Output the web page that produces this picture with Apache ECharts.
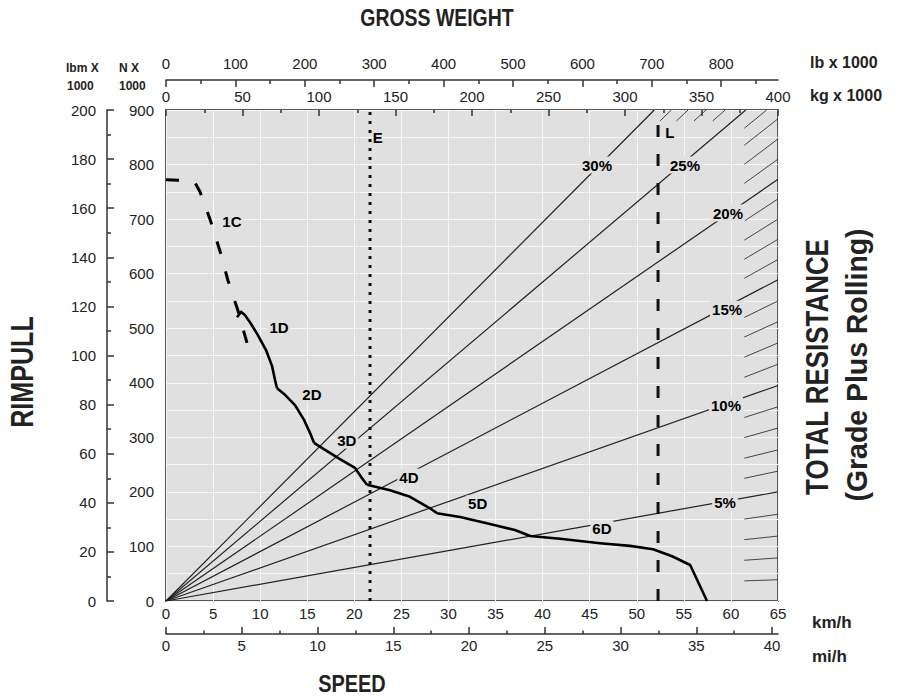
<!DOCTYPE html>
<html><head><meta charset="utf-8">
<script src="https://cdn.jsdelivr.net/npm/echarts@6/dist/echarts.min.js"></script>
<style>html,body{margin:0;padding:0;background:#fff}#c{width:904px;height:700px}</style>
</head><body><div id="c"></div>
<script>
// ---------- data (speed km/h, rimpull kN) ----------
const speed1C = [0, 2.97, 3.61, 4.67, 5.74, 6.59, 7.65, 8.6];
const rim1C   = [772, 770, 750, 700, 641, 587, 532, 473];
const speed1D = [7.54, 7.97, 8.39, 8.92, 9.77, 10.62, 11.26, 11.58, 11.79];
const rim1D   = [520, 530, 524, 511, 487, 460, 431, 405, 390];
const speed2D = [11.79, 12.64, 13.70, 14.66, 15.40, 15.72];
const rim2D   = [390, 378, 359, 332, 304, 290];
const speed3D = [15.72, 16.89, 18.48, 20.07, 20.82, 21.35];
const rim3D   = [290, 277, 260, 244, 225, 213];
const speed4D = [21.35, 23.79, 25.92, 28.04, 28.78];
const rim4D   = [213, 203, 191, 170, 161];
const speed5D = [28.78, 31.23, 34.41, 37.07, 38.66];
const rim5D   = [161, 154, 141, 130, 119];
const speed6D = [38.66, 41.85, 46.1, 49.28, 51.73, 53.75, 55.67, 57.46];
const rim6D   = [119, 114, 106, 101, 95, 82, 66, 0];

const gearNames = ['1C', '1D', '2D', '3D', '4D', '5D', '6D'];
const gearLabelSpeed = [7.0, 12.0, 15.5, 19.2, 25.8, 33.1, 46.3];
const gearLabelRim   = [696, 502, 379, 295, 227, 178, 132];

const lineESpeed = 21.67;   // E
const lineLSpeed = 52.26;   // L
const markNames = ['E', 'L'];
const markLabelSpeed = [22.5, 53.5];
const markLabelRim = [849, 858];

// total resistance (grade) lines: rimpull (kN) reached at 400 t gross weight
const gradePct = [1,2,3,4,5,6,7,8,9,10,11,12,13,14,15,16,17,18,19,20,21,22,23,24,25,26,27,28,29,30];
const gradeRimAt400 = [39,79,119,159,200,238,277,317,356,395,434,473,512,550,589,626,663,700,737,773,810,847,884,917,950,985,1020,1055,1090,1128];
const labelledGrades = [5, 10, 15, 20, 25, 30];
const gradeLabelKg = [365.4, 366, 366.7, 367.3, 339.2, 281.7];
const gradeLabelKN = [181, 359, 535, 711, 799, 799];

// tick labels
const kmhTicks = [0,5,10,15,20,25,30,35,40,45,50,55,60,65];
const mphTicks = [0,5,10,15,20,25,30,35,40];
const mphMinor = [2.5,7.5,12.5,17.5,22.5,27.5,32.5,37.5];
const lbTicks = [0,100,200,300,400,500,600,700,800];
const lbMinor = [50,150,250,350,450,550,650,750,850];

// ---------- chart ----------
const KG_MAX = 400, KN_MAX = 900;
const pairs = (xs, ys) => xs.map((x, i) => [x, ys[i]]);
const TXT = '#222';
const BASE = "'Liberation Sans', Arial, sans-serif";

const series = [];
// grade lines
gradePct.forEach((g, i) => {
  const k = gradeRimAt400[i] / KG_MAX;
  const kgB = Math.min(KG_MAX, KN_MAX / k);
  const end = [kgB, k * kgB];
  if (labelledGrades.includes(g)) {
    series.push({type: 'line', xAxisIndex: 3, yAxisIndex: 0, symbol: 'none', silent: true, z: 2,
      data: [[0, 0], end], lineStyle: {color: '#222', width: 1.2}});
  } else {
    const kgS = Math.min(378, 880 / k);
    series.push({type: 'line', xAxisIndex: 3, yAxisIndex: 0, symbol: 'none', silent: true, z: 2,
      data: [[kgS, k * kgS], end], lineStyle: {color: '#333', width: 0.9}});
  }
});
// E and L lines
series.push({type: 'line', xAxisIndex: 0, yAxisIndex: 0, symbol: 'none', silent: true, z: 3,
  data: [[lineESpeed, 0], [lineESpeed, 900]], lineStyle: {color: '#111', width: 3, type: [3, 6], cap: 'butt'}});
series.push({type: 'line', xAxisIndex: 0, yAxisIndex: 0, symbol: 'none', silent: true, z: 3,
  data: [[lineLSpeed, 0], [lineLSpeed, 900]], lineStyle: {color: '#111', width: 3, type: [12, 17], cap: 'butt'}});
// rimpull curves
series.push({type: 'line', xAxisIndex: 0, yAxisIndex: 0, symbol: 'none', silent: true, z: 4,
  data: pairs(speed1C, rim1C), lineStyle: {color: '#000', width: 3, type: [13, 18]}});
[[speed1D, rim1D], [speed2D, rim2D], [speed3D, rim3D], [speed4D, rim4D], [speed5D, rim5D], [speed6D, rim6D]].forEach(([s, r]) => {
  series.push({type: 'line', xAxisIndex: 0, yAxisIndex: 0, symbol: 'none', silent: true, z: 4,
    data: pairs(s, r), lineStyle: {color: '#000', width: 2.6, join: 'round'}});
});
const lblStyle = {show: true, position: 'inside', formatter: '{b}', color: '#000', opacity: 1, fontFamily: BASE,
  fontWeight: 'bold', fontSize: 15, backgroundColor: '#e0e0e0', padding: [1, 2]};
const dotStyle = {color: '#000', opacity: 1};
series.push({type: 'scatter', xAxisIndex: 0, yAxisIndex: 0, symbolSize: 0.1, itemStyle: dotStyle, silent: true, z: 6,
  data: gearNames.map((n, i) => ({name: n, value: [gearLabelSpeed[i], gearLabelRim[i]]})), label: lblStyle});
series.push({type: 'scatter', xAxisIndex: 0, yAxisIndex: 0, symbolSize: 0.1, itemStyle: dotStyle, silent: true, z: 6,
  data: markNames.map((n, i) => ({name: n, value: [markLabelSpeed[i], markLabelRim[i]]})),
  label: Object.assign({}, lblStyle, {backgroundColor: 'transparent'})});
series.push({type: 'scatter', xAxisIndex: 3, yAxisIndex: 0, symbolSize: 0.1, itemStyle: dotStyle, silent: true, z: 6,
  data: labelledGrades.map((g, i) => ({name: g + '%', value: [gradeLabelKg[i], gradeLabelKN[i]]})), label: lblStyle});

const tickLbl = {color: TXT, fontFamily: BASE, fontSize: 15};
const axLine = () => ({show: true, onZero: false, lineStyle: {color: '#333', width: 1.5}});
const noLine = () => ({show: false, onZero: false});
const white = {color: '#f6f6f6', width: 1};
const tk = (len, extra) => Object.assign({show: true, inside: true, length: len, lineStyle: {color: '#333', width: 1.5}}, extra || {});

const option = {
  animation: false,
  backgroundColor: '#fff',
  grid: {left: 166, top: 110, width: 612, height: 491, show: true, backgroundColor: '#e0e0e0',
    borderColor: '#555', borderWidth: 2, containLabel: false, z: 0},
  xAxis: [
    {type: 'value', position: 'bottom', min: 0, max: 65, interval: 5, axisLine: noLine(), axisTick: {show: false},
      axisLabel: Object.assign({margin: 5, customValues: kmhTicks}, tickLbl), splitLine: {show: true, lineStyle: white}, z: 1},
    {type: 'value', position: 'bottom', offset: 33, min: 0, max: 65 / 1.609344, axisLine: axLine(),
      axisTick: tk(7, {customValues: mphTicks}),
      axisLabel: Object.assign({margin: 4, customValues: mphTicks}, tickLbl), splitLine: {show: false}, z: 5},
    {type: 'value', position: 'bottom', offset: 33, min: 0, max: 65 / 1.609344, axisLine: noLine(),
      axisTick: tk(3.5, {customValues: mphMinor}),
      axisLabel: {show: false}, splitLine: {show: false}, z: 5},
    {type: 'value', position: 'top', min: 0, max: KG_MAX, interval: 50, axisLine: noLine(),
      axisTick: tk(6),
      minorTick: {show: true, splitNumber: 2, length: 3, lineStyle: {color: '#333', width: 1.5}},
      axisLabel: Object.assign({margin: 6}, tickLbl), splitLine: {show: false}, z: 5},
    {type: 'value', position: 'top', offset: 30, min: 0, max: KG_MAX * 2.20462, axisLine: axLine(),
      axisTick: tk(7, {customValues: lbTicks}),
      axisLabel: Object.assign({margin: 9, customValues: lbTicks}, tickLbl), splitLine: {show: false}, z: 5},
    {type: 'value', position: 'top', offset: 30, min: 0, max: KG_MAX * 2.20462, axisLine: noLine(),
      axisTick: tk(4, {customValues: lbMinor}),
      axisLabel: {show: false}, splitLine: {show: false}, z: 5}
  ],
  yAxis: [
    {type: 'value', position: 'left', min: 0, max: KN_MAX, interval: 100, axisLine: noLine(), axisTick: {show: false},
      axisLabel: Object.assign({margin: 12}, tickLbl), splitLine: {show: true, lineStyle: white},
      minorTick: {show: false, splitNumber: 2}, minorSplitLine: {show: true, lineStyle: white}, z: 1},
    {type: 'value', position: 'left', offset: 59, min: 0, max: 200, interval: 20, axisLine: axLine(),
      axisTick: tk(7),
      minorTick: {show: true, splitNumber: 2, length: 4, lineStyle: {color: '#333', width: 1.5}},
      axisLabel: Object.assign({margin: 11}, tickLbl), splitLine: {show: false}, z: 5}
  ],
  graphic: [
    {type: 'text', x: 437, y: 18, scaleX: 0.81, style: {text: 'GROSS WEIGHT', font: "bold 24px " + BASE, fill: '#222', align: 'center', verticalAlign: 'middle'}},
    {type: 'text', x: 352, y: 684, scaleX: 0.83, style: {text: 'SPEED', font: "bold 24px " + BASE, fill: '#222', align: 'center', verticalAlign: 'middle'}},
    {type: 'text', x: 22, y: 372, rotation: Math.PI / 2, scaleX: 0.81, style: {text: 'RIMPULL', font: "bold 31px " + BASE, fill: '#222', align: 'center', verticalAlign: 'middle'}},
    {type: 'text', x: 817, y: 367, rotation: Math.PI / 2, scaleX: 0.81, style: {text: 'TOTAL RESISTANCE', font: "bold 32px " + BASE, fill: '#222', align: 'center', verticalAlign: 'middle'}},
    {type: 'text', x: 857, y: 365, rotation: Math.PI / 2, scaleX: 0.98, style: {text: '(Grade Plus Rolling)', font: "bold 29px " + BASE, fill: '#222', align: 'center', verticalAlign: 'middle'}},
    {type: 'text', x: 810, y: 62, style: {text: 'lb x 1000', font: "bold 16px " + BASE, fill: '#222', verticalAlign: 'middle'}},
    {type: 'text', x: 810, y: 95, style: {text: 'kg x 1000', font: "bold 16px " + BASE, fill: '#222', verticalAlign: 'middle'}},
    {type: 'text', x: 812, y: 622, style: {text: 'km/h', font: "bold 17px " + BASE, fill: '#222', verticalAlign: 'middle'}},
    {type: 'text', x: 812, y: 656, style: {text: 'mi/h', font: "bold 17px " + BASE, fill: '#222', verticalAlign: 'middle'}},
    {type: 'text', x: 66, y: 68, style: {text: 'lbm X', font: "bold 12px " + BASE, fill: '#222', verticalAlign: 'middle'}},
    {type: 'text', x: 67, y: 86, style: {text: '1000', font: "bold 12px " + BASE, fill: '#222', verticalAlign: 'middle'}},
    {type: 'text', x: 119, y: 68, style: {text: 'N X', font: "bold 12px " + BASE, fill: '#222', verticalAlign: 'middle'}},
    {type: 'text', x: 119, y: 86, style: {text: '1000', font: "bold 12px " + BASE, fill: '#222', verticalAlign: 'middle'}}
  ],
  series: series
};
const chart = echarts.init(document.getElementById('c'), null, {renderer: 'svg'});
chart.setOption(option);
</script>
</body></html>
